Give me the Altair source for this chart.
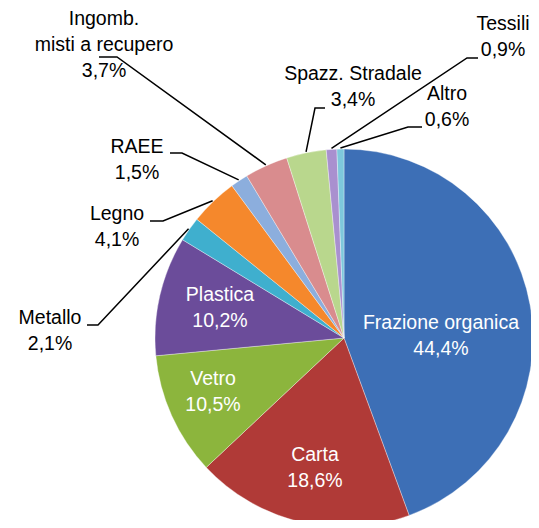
import math
import altair as alt
import pandas as pd

# ---- data ----
categories = ["Frazione organica", "Carta", "Vetro", "Plastica", "Metallo", "Legno",
              "RAEE", "Ingomb.\nmisti a recupero", "Spazz. Stradale", "Tessili", "Altro"]
values = [44.4, 18.6, 10.5, 10.2, 2.1, 4.1, 1.5, 3.7, 3.4, 0.9, 0.6]
colors = ["#3D6FB6", "#B03A37", "#8CB53D", "#6B4C9A", "#3FAFCE", "#F5882C",
          "#8CAEDD", "#D98C8E", "#B9D78D", "#A990CF", "#7EC8DC"]
inside = ["Frazione organica", "Carta", "Vetro", "Plastica"]

# ---- layout (chart pixel coordinates, centre of the text block) ----
W, H = 523, 512
CX, CY, R = 336, 330, 189
LH = 26
label_pos = {
    "Frazione organica": (433, 328),
    "Carta": (307, 459.5),
    "Vetro": (205, 383.5),
    "Plastica": (212, 300),
    "Metallo": (42, 323),
    "Legno": (109, 219),
    "RAEE": (129, 152),
    "Ingomb.\nmisti a recupero": (96, 37),
    "Spazz. Stradale": (345, 79),
    "Tessili": (495, 29),
    "Altro": (439, 99),
}
leader = {  # elbow point, end point
    "Metallo": [(90, 317), (79, 317)],
    "Legno": [(155, 213), (142, 213)],
    "RAEE": [(174, 145), (162, 145)],
    "Ingomb.\nmisti a recupero": [(109, 49), (91, 49)],
    "Spazz. Stradale": [(307, 100), (317, 100)],
    "Tessili": [(459, 50), (470, 50)],
    "Altro": [(400, 119), (414, 119)],
}

def fmt(v):
    return f"{v:.1f}".replace(".", ",") + "%"

pie_df = pd.DataFrame({"cat": categories, "value": values, "idx": list(range(len(values)))})

total = sum(values)
cum = 0.0
lab_rows, line_rows = [], []
for i, (c, v) in enumerate(zip(categories, values)):
    mid = (cum + v / 2) / total * 2 * math.pi
    cum += v
    lx, ly = label_pos[c]
    label = c + "\n" + fmt(v)
    n = label.count("\n") + 1
    lab_rows.append({"x": lx, "y": ly - (n - 1) * LH / 2, "label": label,
                     "inside": c in inside})
    if c in leader:
        ex = CX + (R + 1) * math.sin(mid)
        ey = CY - (R + 1) * math.cos(mid)
        pts = [(ex, ey)] + leader[c]
        for s, (px, py) in enumerate(pts):
            line_rows.append({"id": i, "seq": s, "x": px, "y": py})

lab_df = pd.DataFrame(lab_rows)
line_df = pd.DataFrame(line_rows)

xs = alt.Scale(domain=[0, W], range=[0, W], nice=False, zero=False)
ys = alt.Scale(domain=[0, H], range=[0, H], nice=False, zero=False)

pie = alt.Chart(pie_df).mark_arc(outerRadius=R, stroke="#ffffff", strokeOpacity=0.35,
                                 strokeWidth=1).encode(
    theta=alt.Theta("value:Q", stack=True),
    color=alt.Color("cat:N", scale=alt.Scale(domain=categories, range=colors), legend=None),
    order=alt.Order("idx:Q"),
    x=alt.value(CX),
    y=alt.value(CY),
)

lines = alt.Chart(line_df).mark_line(color="black", strokeWidth=1.5).encode(
    x=alt.X("x:Q", scale=xs, axis=None),
    y=alt.Y("y:Q", scale=ys, axis=None),
    detail="id:N",
    order="seq:Q",
)

text_common = dict(font="Liberation Sans", fontSize=19.5, lineBreak="\n", lineHeight=LH,
                   align="center", baseline="middle")
txt_in = alt.Chart(lab_df[lab_df["inside"]]).mark_text(color="white", **text_common).encode(
    x=alt.X("x:Q", scale=xs, axis=None),
    y=alt.Y("y:Q", scale=ys, axis=None),
    text="label:N",
)
txt_out = alt.Chart(lab_df[~lab_df["inside"]]).mark_text(color="black", **text_common).encode(
    x=alt.X("x:Q", scale=xs, axis=None),
    y=alt.Y("y:Q", scale=ys, axis=None),
    text="label:N",
)

chart = alt.layer(pie, lines, txt_in, txt_out).properties(
    width=W, height=H, autosize=alt.AutoSizeParams(type="none"), padding=0
).configure_view(stroke=None)

chart.save("out.html", embed_options={"renderer": "svg", "actions": False})
